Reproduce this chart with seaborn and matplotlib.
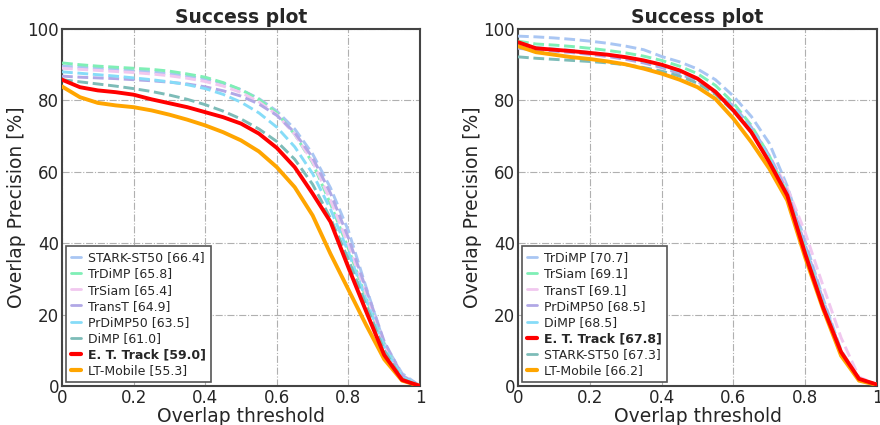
import numpy as np
import pandas as pd
import matplotlib
matplotlib.use("Agg")
import matplotlib.pyplot as plt
import seaborn as sns

thresholds = [0.0, 0.05, 0.1, 0.15, 0.2, 0.25, 0.3, 0.35, 0.4, 0.45, 0.5,
              0.55, 0.6, 0.65, 0.7, 0.75, 0.8, 0.85, 0.9, 0.95, 1.0]

# ---- left panel ----
left_names = ["STARK-ST50 [66.4]", "TrDiMP [65.8]", "TrSiam [65.4]", "TransT [64.9]",
              "PrDiMP50 [63.5]", "DiMP [61.0]", "E. T. Track [59.0]", "LT-Mobile [55.3]"]
left_stark = [89.6, 89.3, 89.0, 88.7, 88.3, 88.0, 87.5, 86.8, 86.0, 84.8, 83.0,
              80.5, 77.0, 72.0, 65.0, 55.5, 43.5, 27.5, 12.0, 3.5, 0.0]
left_trdimp = [90.5, 90.0, 89.6, 89.3, 89.0, 88.7, 88.2, 87.4, 86.5, 85.0, 83.0,
               80.3, 76.5, 70.5, 62.5, 51.0, 38.5, 24.5, 11.5, 2.5, 0.0]
left_trsiam = [89.0, 88.7, 88.4, 88.1, 87.8, 87.4, 86.9, 86.2, 85.3, 84.0, 82.2,
               79.6, 76.0, 70.5, 62.8, 52.0, 39.5, 25.5, 11.5, 2.5, 0.0]
left_transt = [86.8, 86.5, 86.3, 86.1, 85.8, 85.5, 85.1, 84.6, 83.8, 82.7, 81.2,
               79.0, 75.8, 71.0, 64.0, 54.0, 41.5, 27.0, 12.5, 3.0, 0.0]
left_prdimp = [88.0, 87.6, 87.2, 86.8, 86.3, 85.8, 85.2, 84.4, 83.3, 81.7, 79.5,
               76.5, 72.5, 67.0, 59.5, 49.5, 37.5, 24.0, 11.0, 2.5, 0.0]
left_dimp = [85.8, 85.2, 84.6, 84.0, 83.3, 82.5, 81.5, 80.3, 78.8, 77.0, 74.8,
             72.0, 68.5, 63.5, 56.5, 47.0, 35.5, 22.5, 10.0, 2.0, 0.0]
left_ettrack = [85.8, 83.7, 82.8, 82.3, 81.6, 80.3, 79.2, 78.1, 76.7, 75.3, 73.5,
                70.7, 66.7, 61.3, 53.9, 46.0, 33.2, 20.8, 8.7, 1.7, 0.0]
left_ltmobile = [83.9, 80.9, 79.3, 78.6, 78.1, 77.2, 76.0, 74.6, 73.0, 71.1, 68.8,
                 65.7, 61.3, 55.7, 47.8, 37.0, 27.0, 17.0, 7.5, 1.5, 0.0]

# ---- right panel ----
right_names = ["TrDiMP [70.7]", "TrSiam [69.1]", "TransT [69.1]", "PrDiMP50 [68.5]",
               "DiMP [68.5]", "E. T. Track [67.8]", "STARK-ST50 [67.3]", "LT-Mobile [66.2]"]
right_trdimp = [98.0, 97.8, 97.5, 97.1, 96.6, 96.0, 95.2, 94.2, 92.3, 90.8, 88.8,
                85.8, 81.2, 75.5, 68.0, 56.0, 40.5, 24.5, 10.0, 2.0, 0.4]
right_trsiam = [96.6, 95.8, 95.5, 95.1, 94.6, 94.0, 93.3, 92.4, 91.2, 89.6, 87.5,
                84.2, 79.3, 73.0, 64.5, 54.0, 38.5, 23.0, 9.5, 2.0, 0.4]
right_transt = [94.8, 94.3, 94.0, 93.6, 93.1, 92.5, 91.7, 90.7, 89.4, 87.7, 85.5,
                82.3, 77.8, 72.0, 64.5, 55.5, 43.0, 28.0, 13.5, 2.5, 0.4]
right_prdimp = [94.6, 94.1, 93.8, 93.4, 92.9, 92.3, 91.5, 90.5, 89.2, 87.5, 85.3,
                82.0, 78.5, 72.5, 64.5, 54.5, 39.5, 24.0, 9.5, 2.0, 0.4]
right_dimp = [95.5, 94.8, 94.4, 94.0, 93.4, 92.8, 92.0, 91.0, 89.7, 88.0, 85.8,
              82.6, 78.0, 72.0, 64.0, 53.5, 38.5, 23.0, 9.5, 2.0, 0.4]
right_ettrack = [96.3, 94.6, 94.2, 93.8, 93.3, 92.8, 92.1, 91.2, 90.0, 88.4, 86.1,
                 82.4, 77.2, 71.1, 62.7, 53.4, 37.0, 22.0, 9.5, 2.0, 0.4]
right_stark = [92.2, 91.8, 91.5, 91.2, 90.9, 90.5, 90.0, 89.2, 88.2, 86.8, 84.8,
               81.7, 77.0, 71.0, 63.0, 53.0, 37.5, 22.0, 8.5, 1.8, 0.3]
right_ltmobile = [95.2, 93.5, 92.8, 92.1, 91.6, 90.9, 90.1, 88.9, 87.5, 85.8, 83.7,
                  80.4, 74.9, 68.3, 60.9, 52.0, 36.0, 21.5, 8.5, 1.5, 0.3]

xticks = [0, 0.2, 0.4, 0.6, 0.8, 1]
xticklabels = ["0", "0.2", "0.4", "0.6", "0.8", "1"]
yticks = [0, 20, 40, 60, 80, 100]

dash_colors = ["#a9c6f3", "#7fefb6", "#f1c8ef", "#b1a8e6", "#86dcf8", "#7dbcb8"]
RED = "#ff0000"
ORANGE = "#ffa500"

sns.set_style("white")
plt.rcParams["font.family"] = ["DejaVu Sans"]

fig = plt.figure(figsize=(8.8, 4.25), dpi=100)
ax_l = fig.add_axes([62 / 880, 39 / 425, 358 / 880, 357 / 425])
ax_r = fig.add_axes([518 / 880, 39 / 425, 359 / 880, 357 / 425])

def style_of(name, dash_idx):
    if name.startswith("E. T. Track"):
        return RED, "-", 2.8, 10
    if name.startswith("LT-Mobile"):
        return ORANGE, "-", 2.8, 9
    return dash_colors[dash_idx], "--", 2.1, 5

def draw(ax, names, series):
    di = 0
    for name, vals in zip(names, series):
        color, ls, lw, z = style_of(name, di)
        if ls == "--":
            di += 1
        df = pd.DataFrame({"thr": thresholds, "val": vals})
        sns.lineplot(data=df, x="thr", y="val", ax=ax, color=color, linestyle=ls,
                     linewidth=lw, label=name, zorder=z)
    ax.set_xlim(0, 1)
    ax.set_ylim(0, 100)
    ax.set_xticks(xticks)
    ax.set_xticklabels(xticklabels)
    ax.set_yticks(yticks)
    ax.grid(True, color="#b0b0b0", linestyle="-.", linewidth=0.8)
    ax.tick_params(direction="in", labelsize=12, length=4, width=1, color="#444444",
                   pad=2)
    for s in ax.spines.values():
        s.set_color("#444444")
        s.set_linewidth(1.5)
    ax.set_xlabel("Overlap threshold", fontsize=13.5, labelpad=0)
    ax.set_ylabel("Overlap Precision [%]", fontsize=13.5, labelpad=1)
    ax.set_title("Success plot", fontsize=13.5, fontweight="bold", pad=4)
    leg = ax.legend(loc="lower left", fontsize=9, handlelength=0.8, handletextpad=0.6,
                    labelspacing=0.25, borderpad=0.4, borderaxespad=0.3,
                    fancybox=False, framealpha=1.0, edgecolor="#555555")
    leg.get_frame().set_linewidth(1.2)
    for txt, line in zip(leg.get_texts(), leg.get_lines()):
        line.set_linestyle("-")
        if txt.get_text().startswith("E. T. Track"):
            txt.set_fontweight("bold")
            line.set_linewidth(3.0)
        elif txt.get_text().startswith("LT-Mobile"):
            line.set_linewidth(3.0)
        else:
            line.set_linewidth(2.0)

draw(ax_l, left_names, [left_stark, left_trdimp, left_trsiam, left_transt,
                        left_prdimp, left_dimp, left_ettrack, left_ltmobile])
draw(ax_r, right_names, [right_trdimp, right_trsiam, right_transt, right_prdimp,
                         right_dimp, right_ettrack, right_stark, right_ltmobile])

fig.savefig("out.png", dpi=100)
